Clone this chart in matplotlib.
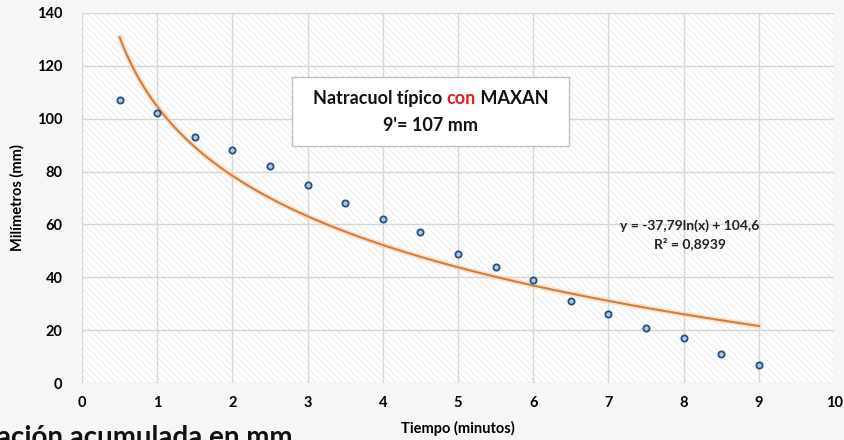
import numpy as np
import matplotlib.pyplot as plt
from matplotlib.patches import Rectangle

# minutes vs cumulative mm
tiempo = [0.5, 1, 1.5, 2, 2.5, 3, 3.5, 4, 4.5, 5, 5.5, 6, 6.5, 7, 7.5, 8, 8.5, 9]
milimetros = [107, 102, 93, 88, 82, 75, 68, 62, 57, 49, 44, 39, 31, 26, 21, 17, 11, 7]
x_ticks = [0, 1, 2, 3, 4, 5, 6, 7, 8, 9, 10]
y_ticks = [0, 20, 40, 60, 80, 100, 120, 140]

FONT = ['Lato', 'DejaVu Sans']
plt.rcParams['font.family'] = FONT
plt.rcParams['hatch.linewidth'] = 0.5
plt.rcParams['hatch.color'] = '#e4e4e4'

x = np.array(tiempo)
y = np.array(milimetros)
# log trendline fitted to the points
a, b = np.polyfit(np.log(x), y, 1)
xt = np.linspace(x.min(), x.max(), 200)
yt = a * np.log(xt) + b

fig = plt.figure(figsize=(8.44, 4.4), dpi=100, facecolor='#f6f6f6')
ax = fig.add_axes([0.0972, 0.1295, 0.891, 0.841])
ax.set_facecolor('white')
ax.add_patch(Rectangle((0, 0), 1, 1, transform=ax.transAxes, facecolor='white',
                       edgecolor='#e4e4e4', hatch='\\\\\\\\\\', lw=0, zorder=0))

ax.set_xlim(0, 10)
ax.set_ylim(0, 140)
ax.set_xticks(x_ticks)
ax.set_yticks(y_ticks)
ax.grid(True, color='#d6d6d6', lw=1)
ax.set_axisbelow(True)
for s in ax.spines.values():
    s.set_visible(False)
ax.tick_params(axis='x', length=0, labelsize=10.5, pad=9)
ax.tick_params(axis='y', length=0, labelsize=10.5, pad=14)
for lab in ax.get_xticklabels() + ax.get_yticklabels():
    lab.set_fontweight('bold')

ax.plot(xt, yt, color='#f7d3b3', lw=4, alpha=0.6, zorder=2)
ax.plot(xt, yt, color='#d57d3c', lw=1.5, zorder=3)
ax.plot(x, y, 'o', ms=4.5, mfc='#a9c8e6', mec='#27507a', mew=1.3, zorder=4)

ax.set_xlabel('Tiempo (minutos)', fontsize=10.5, fontweight='bold', labelpad=8)
ax.set_ylabel('Milímetros (mm)', fontsize=10.5, fontweight='bold', labelpad=9)

# text box
ax.add_patch(Rectangle((0.279, 0.641), 0.369, 0.186, transform=ax.transAxes,
                       facecolor='white', edgecolor='#bfbfbf', lw=1, zorder=5))
cx = 0.4635
fs = 13
parts = [('Natracuol típico ', '#111111'), ('con', '#e02020'), (' MAXAN', '#111111')]
fig.canvas.draw()
r = fig.canvas.get_renderer()
widths = []
for s, c in parts:
    tmp = ax.text(0, 0, s.replace(' ', '\u00a0'), fontsize=fs, fontweight='bold')
    widths.append(tmp.get_window_extent(r).width)
    tmp.remove()
px_cx = ax.transAxes.transform((cx, 0))[0]
px = px_cx - sum(widths) / 2
inv = ax.transAxes.inverted()
for (s, c), w in zip(parts, widths):
    xa = inv.transform((px, 0))[0]
    ax.text(xa, 0.770, s.replace(' ', '\u00a0'), transform=ax.transAxes, ha='left', va='center',
            fontsize=fs, fontweight='bold', color=c, zorder=6)
    px += w
ax.text(cx, 0.697, "9'= 107 mm", transform=ax.transAxes, ha='center', va='center',
        fontsize=fs, fontweight='bold', color='#111111', zorder=6)

ax.text(0.808, 0.40, 'y = -37,79ln(x) + 104,6\nR² = 0,8939', transform=ax.transAxes,
        ha='center', va='center', fontsize=10, fontweight='bold', color='#222222',
        linespacing=1.45, zorder=6)

fig.text(-0.004, 1 - 425 / 440, 'ación acumulada en mm', ha='left', va='top',
         fontsize=20, fontweight='bold', color='#111111')

fig.savefig('out.png', dpi=100, facecolor=fig.get_facecolor())
